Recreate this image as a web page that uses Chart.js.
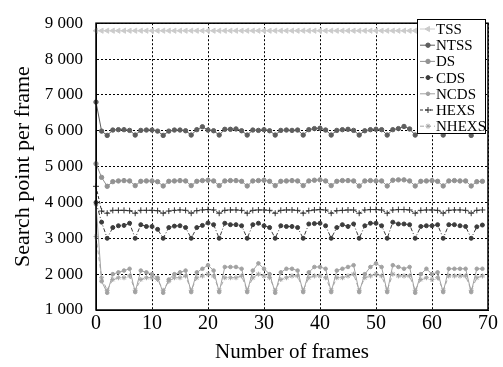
<!DOCTYPE html>
<html>
<head>
<meta charset="utf-8">
<script src="https://cdn.jsdelivr.net/npm/chart.js@4"></script>
<style>
  html, body { margin: 0; padding: 0; background: #fff; }
  #wrap { width: 503px; height: 367px; }
</style>
</head>
<body>
<div id="wrap"><canvas id="myChart" width="503" height="367"></canvas></div>
<script>
const frames = Array.from({ length: 70 }, (_, i) => i);
const xTicks = [0, 10, 20, 30, 40, 50, 60, 70];
const yTicks = [1000, 2000, 3000, 4000, 5000, 6000, 7000, 8000, 9000];

const tss = [
  8790, 8790, 8790, 8790, 8790, 8790, 8790, 8790, 8790, 8790,
  8790, 8790, 8790, 8790, 8790, 8790, 8790, 8790, 8790, 8790,
  8790, 8790, 8790, 8790, 8790, 8790, 8790, 8790, 8790, 8790,
  8790, 8790, 8790, 8790, 8790, 8790, 8790, 8790, 8790, 8790,
  8790, 8790, 8790, 8790, 8790, 8790, 8790, 8790, 8790, 8790,
  8790, 8790, 8790, 8790, 8790, 8790, 8790, 8790, 8790, 8790,
  8790, 8790, 8790, 8790, 8790, 8790, 8790, 8790, 8790, 8790,
];
const ntss = [
  6800, 5990, 5870, 6020, 6030, 6030, 6010, 5880, 6010, 6020,
  6020, 5990, 5870, 5990, 6020, 6020, 6000, 5880, 6030, 6110,
  6020, 6000, 5880, 6040, 6040, 6050, 6000, 5880, 6020, 6010,
  6030, 6000, 5880, 6010, 6020, 6010, 6020, 5880, 6030, 6060,
  6070, 6020, 5880, 6010, 6030, 6040, 6010, 5880, 6000, 6030,
  6040, 6030, 5880, 6030, 6060, 6120, 6050, 5880, 6020, 6000,
  6020, 6030, 5880, 6020, 6030, 6030, 6010, 5870, 6000, 6020,
];
const ds = [
  5080, 4700, 4450, 4580, 4600, 4610, 4600, 4470, 4590, 4600,
  4600, 4580, 4460, 4590, 4600, 4610, 4600, 4470, 4590, 4610,
  4620, 4600, 4470, 4600, 4610, 4610, 4590, 4460, 4600, 4610,
  4620, 4590, 4470, 4590, 4600, 4610, 4600, 4470, 4600, 4620,
  4630, 4600, 4470, 4590, 4610, 4610, 4600, 4460, 4600, 4610,
  4600, 4600, 4460, 4620, 4630, 4630, 4600, 4460, 4590, 4600,
  4610, 4590, 4460, 4600, 4610, 4600, 4600, 4460, 4580, 4590,
];
const cds = [
  4000, 3450, 3000, 3300, 3350, 3360, 3420, 3000, 3380, 3330,
  3330, 3250, 3000, 3300, 3340, 3350, 3300, 3000, 3300, 3360,
  3430, 3380, 3000, 3420, 3380, 3380, 3350, 3000, 3380, 3420,
  3350, 3300, 3000, 3350, 3330, 3330, 3300, 3000, 3400, 3410,
  3420, 3350, 3000, 3300, 3380, 3330, 3400, 3000, 3350, 3420,
  3420, 3350, 3000, 3450, 3400, 3400, 3380, 3000, 3330, 3350,
  3350, 3380, 3000, 3380, 3380, 3350, 3330, 3000, 3320, 3370,
];
const ncds = [
  3950, 1800, 1480, 2000, 2050, 2100, 2150, 1500, 2100, 2050,
  2000, 1900, 1480, 1850, 2000, 2050, 2100, 1500, 2050, 2150,
  2250, 2100, 1500, 2200, 2200, 2200, 2150, 1500, 2100, 2300,
  2150, 2000, 1480, 2050, 2150, 2150, 2100, 1500, 2050, 2200,
  2200, 2150, 1500, 2100, 2150, 2200, 2250, 1500, 2000, 2200,
  2300, 2200, 1500, 2250, 2200, 2150, 2200, 1480, 2000, 2150,
  2000, 2050, 1500, 2150, 2150, 2150, 2150, 1500, 2150, 2150,
];
const hexs = [
  4450, 3760, 3700, 3780, 3780, 3780, 3770, 3700, 3780, 3780,
  3780, 3770, 3700, 3760, 3780, 3790, 3780, 3700, 3770, 3790,
  3800, 3790, 3700, 3780, 3790, 3790, 3780, 3700, 3780, 3790,
  3790, 3780, 3700, 3780, 3790, 3790, 3780, 3700, 3770, 3790,
  3800, 3790, 3700, 3770, 3780, 3790, 3790, 3700, 3790, 3800,
  3800, 3790, 3700, 3790, 3800, 3800, 3790, 3700, 3780, 3790,
  3790, 3780, 3700, 3780, 3790, 3790, 3780, 3700, 3780, 3790,
];
const nhexs = [
  3050, 1900, 1550, 1850, 1900, 1900, 1950, 1550, 1850, 1900,
  1900, 1850, 1550, 1800, 1900, 1900, 1950, 1550, 1900, 1950,
  2000, 1950, 1550, 1900, 1900, 1900, 1950, 1550, 1900, 2000,
  1950, 1900, 1550, 1850, 1900, 1950, 1950, 1550, 1900, 1950,
  1950, 1900, 1550, 1900, 1900, 1950, 2000, 1550, 1900, 1950,
  2000, 1950, 1550, 2000, 1950, 1950, 1950, 1550, 1850, 1900,
  1850, 1900, 1550, 1950, 1950, 1950, 1950, 1550, 1900, 1950,
];

const serif = "'Liberation Serif', 'Times New Roman', serif";

const makeSet = (label, values, color, dash, pointStyle, radius, rotation) => ({
  label,
  data: frames.map((f, i) => ({ x: f, y: values[i] })),
  borderColor: color,
  backgroundColor: color,
  borderWidth: 1,
  borderDash: dash,
  pointStyle,
  pointRadius: radius,
  pointRotation: rotation || 0,
  pointBorderWidth: 1,
  pointBorderColor: color,
  pointBackgroundColor: color,
  tension: 0,
  clip: false,
});

const datasets = [
  makeSet("TSS", tss, "#cbcbcb", [], "triangle", 3, 270),
  makeSet("NTSS", ntss, "#5e5e5e", [], "circle", 2.2),
  makeSet("DS", ds, "#929292", [], "circle", 2.2),
  makeSet("CDS", cds, "#3c3c3c", [4, 2, 1, 2], "circle", 2),
  makeSet("NCDS", ncds, "#a2a2a2", [], "circle", 1.8),
  makeSet("HEXS", hexs, "#333333", [3, 2], "cross", 3),
  makeSet("NHEXS", nhexs, "#a6a6a6", [4, 3], "star", 2.5),
];

const fmt = (v) => String(v).replace(/\B(?=(\d{3})+(?!\d))/g, " ");

const boxPlugin = {
  id: "box",
  afterDraw(chart) {
    const { ctx, chartArea: a } = chart;
    ctx.save();
    ctx.strokeStyle = "#000";
    ctx.lineWidth = 1.5;
    ctx.setLineDash([]);
    ctx.strokeRect(a.left, a.top, a.right - a.left, a.bottom - a.top);

    // legend box
    const lx = 417, ly = 19, lw = 68, lh = 114;
    ctx.fillStyle = "#fff";
    ctx.fillRect(lx, ly, lw, lh);
    ctx.lineWidth = 1;
    ctx.strokeRect(lx + 0.5, ly + 0.5, lw, lh);
    ctx.font = "15px " + serif;
    ctx.textBaseline = "middle";
    ctx.textAlign = "left";
    chart.data.datasets.forEach((d, i) => {
      const y = ly + 10 + i * 16.2;
      ctx.strokeStyle = d.borderColor;
      ctx.fillStyle = d.borderColor;
      ctx.lineWidth = 1;
      ctx.setLineDash(d.borderDash);
      ctx.beginPath();
      ctx.moveTo(lx + 3, y);
      ctx.lineTo(lx + 18, y);
      ctx.stroke();
      ctx.setLineDash([]);
      Chart.helpers.drawPoint(ctx, {
        pointStyle: d.pointStyle,
        radius: d.pointRadius,
        rotation: d.pointRotation,
        borderWidth: 1,
      }, lx + 11, y);
      ctx.fillStyle = "#000";
      ctx.fillText(d.label, lx + 19, y + 1);
    });
    ctx.restore();
  },
};

new Chart(document.getElementById("myChart").getContext("2d"), {
  type: "line",
  data: { datasets },
  options: {
    responsive: false,
    animation: false,
    layout: { padding: { left: 0, right: 15, top: 15, bottom: 0 } },
    plugins: { legend: { display: false }, tooltip: { enabled: false } },
    scales: {
      x: {
        type: "linear",
        min: 0,
        max: 70,
        afterBuildTicks: (s) => { s.ticks = xTicks.map((v) => ({ value: v })); },
        afterFit: (s) => { s.height = 57; },
        grid: { color: "#000", lineWidth: 1, drawTicks: false },
        border: { display: true, color: "#000", dash: [2, 2] },
        ticks: {
          color: "#000",
          padding: 2,
          font: { family: serif, size: 20, lineHeight: 1.2 },
          maxRotation: 0,
        },
        title: {
          display: true,
          text: "Number of frames",
          color: "#000",
          font: { family: serif, size: 21, lineHeight: 1.2 },
          padding: { top: 0, bottom: 2 },
        },
      },
      y: {
        min: 1000,
        max: 9000,
        afterBuildTicks: (s) => { s.ticks = yTicks.map((v) => ({ value: v })); },
        afterFit: (s) => { s.width = 96; },
        grid: { color: "#000", lineWidth: 1, drawTicks: false },
        border: { display: true, color: "#000", dash: [2, 2] },
        ticks: {
          color: "#000",
          padding: 13,
          font: { family: serif, size: 17, lineHeight: 1.2 },
          callback: (v) => fmt(v),
        },
        title: {
          display: true,
          text: "Search point per frame",
          color: "#000",
          font: { family: serif, size: 22, lineHeight: 1.2 },
          padding: { top: 10, bottom: 0 },
        },
      },
    },
  },
  plugins: [boxPlugin],
});
</script>
</body>
</html>
